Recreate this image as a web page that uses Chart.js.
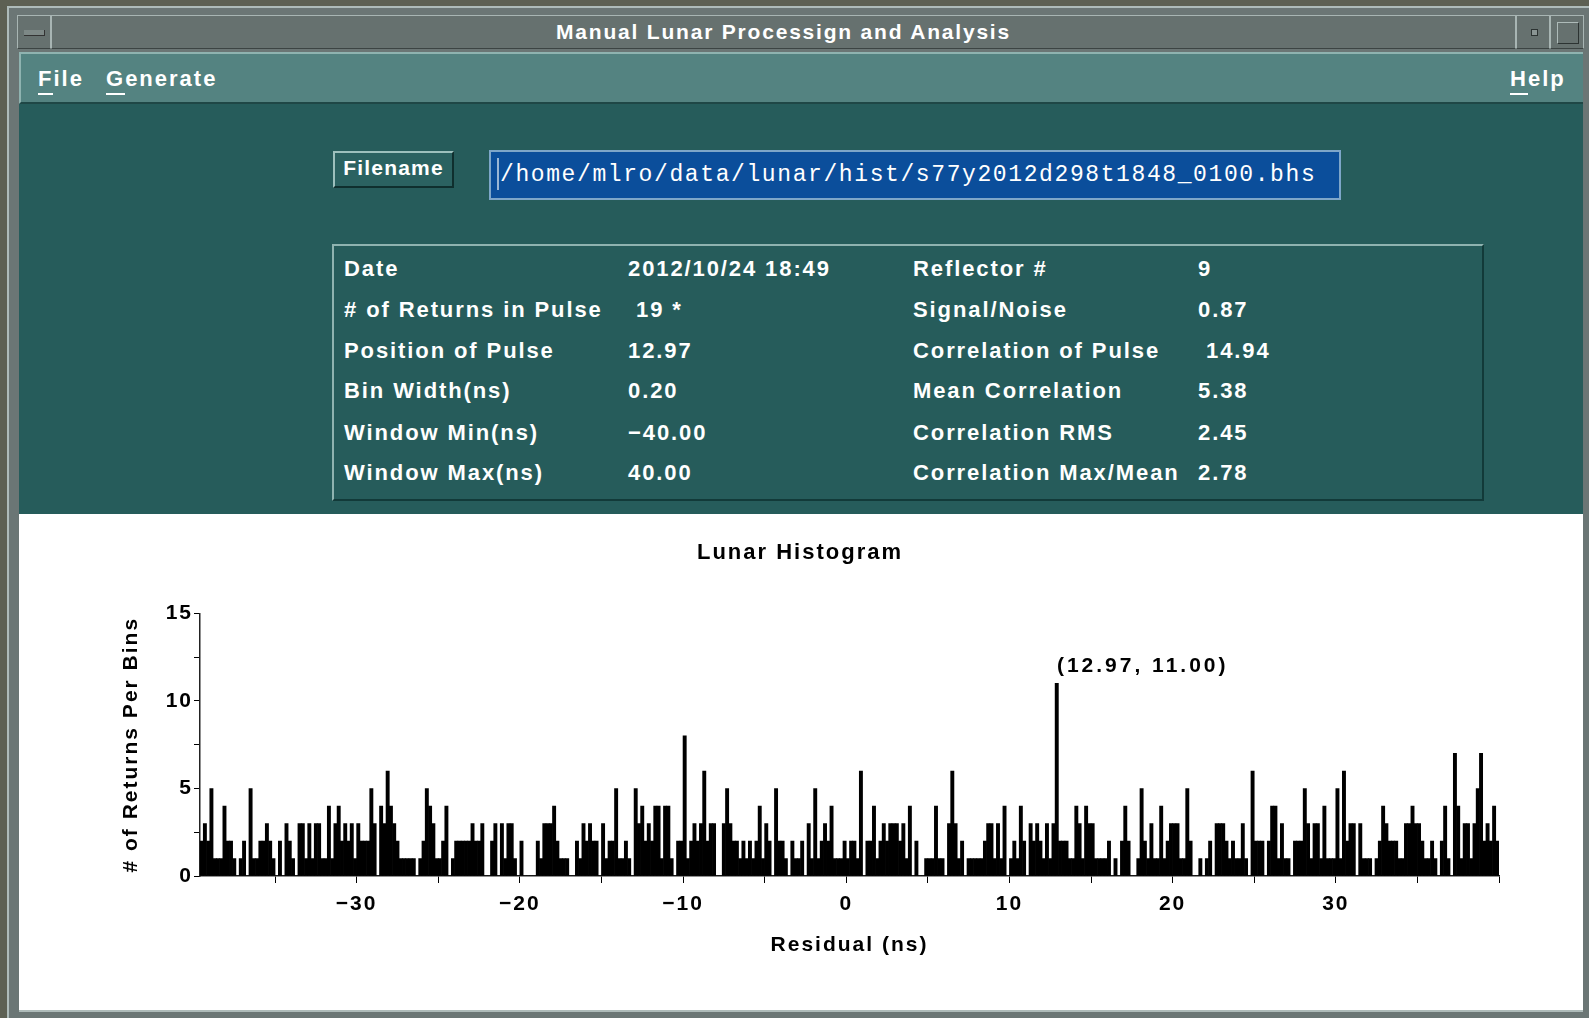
<!DOCTYPE html>
<html>
<head>
<meta charset="utf-8">
<title>Manual Lunar Processign and Analysis</title>
<script src="https://cdn.jsdelivr.net/npm/chart.js@4.4.0/dist/chart.umd.min.js"></script>
<style>
  body {
    margin: 0;
    width: 1589px;
    height: 1018px;
    overflow: hidden;
    position: relative;
    background: #5d6053;
    font-family: 'Liberation Sans', Arial, sans-serif;
    color: #fff;
  }
  .abs { position: absolute; box-sizing: border-box; }
  #frame { left: 7px; top: 6px; width: 1582px; height: 1012px; background: #6b7675; border-top: 2px solid #aebbb9; border-left: 2px solid #aebbb9; }
  .tb { top: 15px; height: 34px; background: #66716f; border: 1px solid #a8b5b3; border-bottom-color: #3c4443; }
  #tbMenu { left: 17px; width: 34px; }
  #tbMenu::after { content: ''; position: absolute; left: 6px; top: 14px; width: 20px; height: 5px; background: #7d8886; border-bottom: 1px solid #333; border-right: 1px solid #333; }
  #tbTitle { left: 51px; width: 1465px; text-align: center; font-weight: bold; font-size: 21px; line-height: 32px; letter-spacing: 1.8px; }
  #tbMin { left: 1516px; width: 34px; }
  #tbMin::after { content: ''; position: absolute; left: 14px; top: 13px; width: 5px; height: 5px; border: 1px solid #2c3332; background: #8a9593; }
  #tbMax { left: 1550px; width: 34px; }
  #tbMax::after { content: ''; position: absolute; left: 6px; top: 6px; width: 20px; height: 20px; border: 1px solid #aebbb9; border-right-color: #2c3332; border-bottom-color: #2c3332; }
  #menubar { left: 19px; top: 52px; width: 1564px; height: 52px; background: #548381; border-top: 2px solid #8fb3b0; border-bottom: 2px solid #1f4746; border-left: 2px solid #8fb3b0; }
  .menu { top: 64px; font-size: 22px; font-weight: bold; line-height: 30px; letter-spacing: 2px; }
  .menu u { text-decoration: none; border-bottom: 2px solid #fff; display: inline-block; line-height: 24px; padding-bottom: 2px; }
  #panel { left: 19px; top: 104px; width: 1564px; height: 411px; background: #265c5b; }
  #fnButton { left: 333px; top: 151px; width: 121px; height: 37px; background: #2b6261; border: 2px solid #9dc0bd; border-right-color: #0f2f2e; border-bottom-color: #0f2f2e; font-weight: bold; font-size: 21px; text-align: center; line-height: 30px; letter-spacing: 1.2px; }
  #fnField { left: 489px; top: 150px; width: 852px; height: 50px; background: #0b4e9b; border: 2px solid #7ea6c9; font-family: 'Liberation Mono', 'DejaVu Sans Mono', monospace; font-size: 23px; letter-spacing: 1.6px; line-height: 46px; padding-left: 9px; white-space: nowrap; }
  #cursor { left: 497px; top: 158px; width: 2px; height: 32px; background: #d8e4ee; opacity: 0.7; }
  #infoBox { left: 332px; top: 244px; width: 1152px; height: 257px; border: 2px solid #8fb3b0; border-right-color: #123a39; border-bottom-color: #123a39; }
  .info { font-size: 22px; font-weight: bold; line-height: 26px; letter-spacing: 1.9px; white-space: pre; }
  #plotArea { left: 19px; top: 514px; width: 1564px; height: 496px; background: #fff; }
  #bottomEdge { left: 19px; top: 1010px; width: 1564px; height: 8px; background: #6b7675; border-top: 2px solid #aebbb9; }
</style>
</head>
<body>
<div class="abs" id="frame"></div>
<div class="abs tb" id="tbMenu"></div>
<div class="abs tb" id="tbTitle">Manual Lunar Processign and Analysis</div>
<div class="abs tb" id="tbMin"></div>
<div class="abs tb" id="tbMax"></div>
<div class="abs" id="menubar"></div>
<div class="abs menu" style="left:38px"><u>F</u>ile</div>
<div class="abs menu" style="left:106px"><u>G</u>enerate</div>
<div class="abs menu" style="left:1510px"><u>H</u>elp</div>
<div class="abs" id="panel"></div>
<div class="abs" id="fnButton">Filename</div>
<div class="abs" id="fnField">/home/mlro/data/lunar/hist/s77y2012d298t1848_0100.bhs</div>
<div class="abs" id="cursor"></div>
<div class="abs" id="infoBox"></div>
<div id="infoRows"></div>
<div class="abs" id="plotArea"><canvas id="histChart" width="1564" height="496"></canvas></div>
<div class="abs" id="bottomEdge"></div>

<script>
// Summary panel text
const leftLabels = ['Date', '# of Returns in Pulse', 'Position of Pulse', 'Bin Width(ns)', 'Window Min(ns)', 'Window Max(ns)'];
const leftValues = ['2012/10/24 18:49', ' 19 *', '12.97', '0.20', '\u221240.00', '40.00'];
const rightLabels = ['Reflector #', 'Signal/Noise', 'Correlation of Pulse', 'Mean Correlation', 'Correlation RMS', 'Correlation Max/Mean'];
const rightValues = ['9', '0.87', ' 14.94', '5.38', '2.45', '2.78'];

// Histogram bins, 0.2 ns wide, starting at -39.6 ns
const binStart = -39.6;
const binWidth = 0.2;
const countsM40 = [2,3,2,5,1,1,1,4,2,2,1,0,1,2,0,5,1,1,2,2,3,2,1,0,2,0,3,2,1,0,3,3,1,3,1,3,3,1,1,4,1,3,4,2,3,2,3,1];
const countsM30 = [3,2,2,2,5,3,0,4,3,6,4,3,2,1,1,1,1,1,0,1,2,5,4,3,1,1,2,4,0,1,2,2,2,2,2,3,2,2,3,0,0,2,3,0,3,1,3,3,1,0];
const countsM20 = [2,0,0,0,0,2,1,3,3,3,4,2,1,1,1,0,0,2,1,3,2,3,2,2,0,3,1,2,2,5,1,1,2,1,0,5,3,4,2,3,2,4,4,1,4,4,1,0,2,2];
const countsM10 = [8,1,2,3,2,3,6,2,3,3,0,0,3,5,3,2,2,1,2,1,2,1,2,4,1,3,2,0,5,2,2,1,0,2,1,1,2,0,3,1,5,1,2,3,2,4,1,1,1,2];
const countsP00 = [1,2,2,1,6,0,2,2,4,1,2,3,2,3,3,3,2,3,1,4,0,2,0,0,1,1,1,4,1,1,0,3,6,3,1,2,0,1,1,1,1,1,2,3,3,1,3,1,4,0];
const countsP10 = [1,2,1,4,2,0,3,2,3,2,1,3,1,3,11,2,2,2,1,1,4,3,1,4,3,3,1,1,1,1,2,0,1,0,2,4,2,0,0,1,5,2,1,3,1,1,4,1,2,3];
const countsP20 = [3,3,1,1,5,2,0,0,1,0,1,2,0,3,3,3,2,1,2,1,1,3,1,0,6,2,2,2,0,2,4,4,1,3,1,1,0,2,2,2,5,3,1,3,3,1,4,1,1,1];
const countsP30 = [5,1,6,2,3,3,0,3,1,1,1,0,1,2,4,3,2,2,2,1,1,3,3,4,3,3,2,1,1,2,1,0,2,4,1,0,7,4,1,3,3,1,3,5,7,2,3,2,4,2];

const peakPos = 12.97;
const peakCount = 11.0;

const xTickLabels = [-30, -20, -10, 0, 10, 20, 30];
const yTickLabels = [0, 5, 10, 15];

const fontFamily = "'Liberation Sans', Arial, sans-serif";

const buildInfoRows = () => {
  const holder = document.getElementById('infoRows');
  const rowTops = [256, 297, 338, 378, 420, 460];
  const cols = [
    [344, leftLabels],
    [628, leftValues],
    [913, rightLabels],
    [1198, rightValues],
  ];
  cols.forEach(([left, texts]) => {
    texts.forEach((text, i) => {
      const el = document.createElement('div');
      el.className = 'abs info';
      el.style.left = left + 'px';
      el.style.top = rowTops[i] + 'px';
      el.textContent = text;
      holder.appendChild(el);
    });
  });
};

const formatTick = (v) => (v < 0 ? '\u2212' + Math.abs(v) : String(v));

// wider glyph spacing, like the old bitmap fonts
const wideText = {
  id: 'wideText',
  beforeDraw(chart) {
    chart.ctx.letterSpacing = '2px';
  },
};

const peakLabel = {
  id: 'peakLabel',
  afterDatasetsDraw(chart) {
    const { ctx, scales } = chart;
    ctx.save();
    ctx.letterSpacing = '3px';
    ctx.font = `bold 21px ${fontFamily}`;
    ctx.fillStyle = '#000';
    ctx.textAlign = 'left';
    ctx.textBaseline = 'middle';
    ctx.fillText(
      `(${peakPos.toFixed(2)}, ${peakCount.toFixed(2)})`,
      scales.x.getPixelForValue(peakPos) - 1,
      scales.y.getPixelForValue(peakCount) - 17
    );
    ctx.restore();
  },
};

const drawHistogram = () => {
  const counts = [].concat(countsM40, countsM30, countsM20, countsM10, countsP00, countsP10, countsP20, countsP30);
  const points = counts.map((c, i) => ({ x: binStart + binWidth * (i + 0.5), y: c }));

  new Chart(document.getElementById('histChart'), {
    type: 'bar',
    data: {
      datasets: [
        {
          data: points,
          backgroundColor: '#000',
          borderWidth: 0,
          barPercentage: 1,
          categoryPercentage: 1,
        },
      ],
    },
    plugins: [wideText, peakLabel],
    options: {
      responsive: false,
      animation: false,
      events: [],
      layout: {
        padding: { left: 82, right: 84, top: 0, bottom: 0 },
      },
      plugins: {
        legend: { display: false },
        tooltip: { enabled: false },
        title: {
          display: true,
          text: 'Lunar Histogram',
          color: '#000',
          font: { family: fontFamily, size: 22, weight: 'bold' },
          padding: { top: 26, bottom: 47 },
        },
      },
      scales: {
        x: {
          type: 'linear',
          min: binStart,
          max: 40,
          offset: false,
          afterFit: (scale) => {
            scale.height = 134;
          },
          ticks: {
            stepSize: 5,
            includeBounds: false,
            autoSkip: false,
            maxRotation: 0,
            padding: 9,
            color: '#000',
            font: { family: fontFamily, size: 21, weight: 'bold' },
            callback: (v) => (xTickLabels.includes(v) ? formatTick(v) : ''),
          },
          grid: {
            offset: false,
            drawOnChartArea: false,
            drawTicks: true,
            tickLength: 7,
            color: '#000',
          },
          border: { color: '#222', width: 1.5 },
          title: {
            display: true,
            text: 'Residual (ns)',
            color: '#000',
            font: { family: fontFamily, size: 21, weight: 'bold' },
            padding: { top: 4, bottom: 52 },
          },
        },
        y: {
          min: 0,
          max: 15,
          afterFit: (scale) => {
            scale.width = 99;
          },
          ticks: {
            stepSize: 2.5,
            padding: 1,
            color: '#000',
            font: { family: fontFamily, size: 21, weight: 'bold' },
            callback: (v) => (yTickLabels.includes(v) ? String(v) : ''),
          },
          grid: {
            drawOnChartArea: false,
            drawTicks: true,
            tickLength: 6,
            color: '#000',
          },
          border: { color: '#222', width: 1.5 },
          title: {
            display: true,
            text: '# of Returns Per Bins',
            color: '#000',
            font: { family: fontFamily, size: 21, weight: 'bold' },
            padding: { top: 18, bottom: 0 },
          },
        },
      },
    },
  });
};

buildInfoRows();
drawHistogram();
</script>
</body>
</html>
